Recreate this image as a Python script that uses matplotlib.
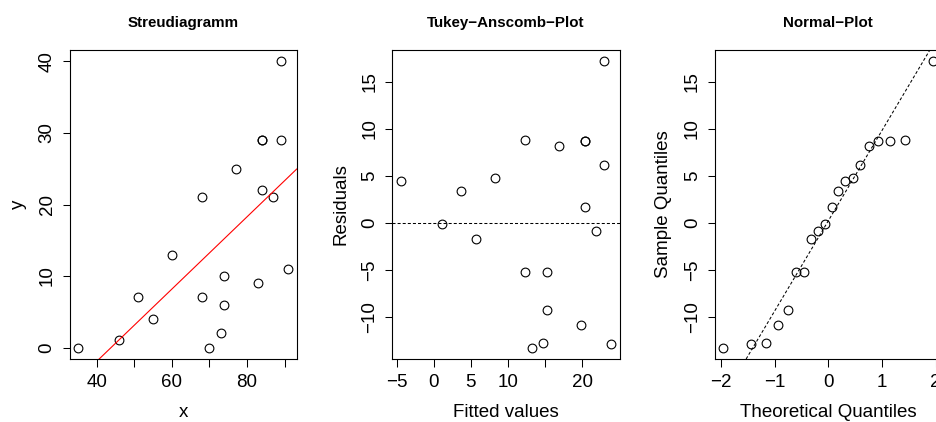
import matplotlib
matplotlib.use("Agg")
import matplotlib.pyplot as plt

# ---- data ----
x = [35, 46, 51, 55, 60, 68, 68, 70, 73, 74, 74, 77, 83, 84, 84, 84, 87, 89, 89, 91]
y = [0, 1, 7, 4, 13, 21, 7, 0, 2, 10, 6, 25, 9, 29, 29, 22, 21, 40, 29, 11]

fitted = [-4.44, 1.11, 3.64, 5.66, 8.19, 12.23, 12.23, 13.24, 14.76, 15.26,
          15.26, 16.78, 19.81, 20.31, 20.31, 20.31, 21.83, 22.84, 22.84, 23.85]
residuals = [4.44, -0.11, 3.36, -1.66, 4.81, 8.77, -5.23, -13.24, -12.76, -5.26,
             -9.26, 8.22, -10.81, 8.69, 8.69, 1.69, -0.83, 17.16, 6.16, -12.85]

theoretical_q = [-1.96, -1.44, -1.15, -0.935, -0.755, -0.598, -0.454, -0.319, -0.189, -0.063,
                 0.063, 0.189, 0.319, 0.454, 0.598, 0.755, 0.935, 1.15, 1.44, 1.96]
sample_q = [-13.24, -12.85, -12.76, -10.81, -9.26, -5.26, -5.23, -1.66, -0.83, -0.11,
            1.69, 3.36, 4.44, 4.81, 6.16, 8.22, 8.69, 8.69, 8.77, 17.16]

reg_intercept, reg_slope = -22.13, 0.505
qq_intercept, qq_slope = 0.21, 9.59

titles = ["Streudiagramm", "Tukey\u2212Anscomb\u2212Plot", "Normal\u2212Plot"]
xlabels = ["x", "Fitted values", "Theoretical Quantiles"]
ylabels = ["y", "Residuals", "Sample Quantiles"]

x1_ticks = [40, 50, 60, 70, 80, 90]
x1_labels = ["40", "", "60", "", "80", ""]
y1_ticks = [0, 10, 20, 30, 40]
x2_ticks = [-5, 0, 5, 10, 15, 20]
x2_labels = ["\u22125", "0", "5", "10", "", "20"]
res_ticks = [-10, -5, 0, 5, 10, 15]
x3_ticks = [-2, -1, 0, 1, 2]

# ---- styling ----
plt.rcParams['font.family'] = ['Liberation Sans', 'DejaVu Sans']
plt.rcParams['axes.unicode_minus'] = True

W, H = 936, 422
fig = plt.figure(figsize=(W / 100, H / 100), dpi=100)

ax_w = 227.2 / W
ax_h = (359 - 50) / H
bottom = (H - 359) / H
lefts = [69.5 / W, 392.3 / W, 714.6 / W]

axes = [fig.add_axes([l, bottom, ax_w, ax_h]) for l in lefts]

marker_kw = dict(linestyle='none', marker='o', markersize=6.3, markerfacecolor='none',
                 markeredgecolor='black', markeredgewidth=0.8)
dash = (0, (2.9, 2.0))


def freeze(ax):
    ax.margins(x=0.04, y=0.04)
    ax.autoscale_view()
    ax.set_xlim(ax.get_xlim())
    ax.set_ylim(ax.get_ylim())


# Panel 1
ax = axes[0]
ax.plot(x, y, **marker_kw)
freeze(ax)
ax.axline((0, reg_intercept), slope=reg_slope, color='red', lw=0.8)
ax.set_xticks(x1_ticks, x1_labels)
ax.set_yticks(y1_ticks)

# Panel 2
ax = axes[1]
ax.plot(fitted, residuals, **marker_kw)
freeze(ax)
ax.axhline(0, color='black', lw=0.75, linestyle=dash)
ax.set_xticks(x2_ticks, x2_labels)
ax.set_yticks(res_ticks)

# Panel 3
ax = axes[2]
ax.plot(theoretical_q, sample_q, **marker_kw)
freeze(ax)
ax.axline((0, qq_intercept), slope=qq_slope, color='black', lw=0.75, linestyle=dash)
ax.set_xticks(x3_ticks)
ax.set_yticks(res_ticks)

for ax, t, xl, yl in zip(axes, titles, xlabels, ylabels):
    ax.set_title(t, fontsize=10.9, fontweight='bold', pad=16.4)
    for s in ax.spines.values():
        s.set_linewidth(0.8)
    ax.tick_params(axis='both', length=5.4, width=0.75, labelsize=13.5, color='black')
    ax.tick_params(axis='x', pad=5.5)
    ax.tick_params(axis='y', pad=4.5)
    for lab in ax.get_yticklabels():
        lab.set_rotation(90)
        lab.set_va('center')
    ax.set_xlabel(xl, fontsize=13.5)
    ax.set_ylabel(yl, fontsize=13.5)
    pw = ax_w * W
    ph = ax_h * H
    ax.xaxis.set_label_coords(0.5, -45 / ph)
    ax.yaxis.set_label_coords(-43 / pw, 0.5)

fig.savefig("out.png", dpi=100)
